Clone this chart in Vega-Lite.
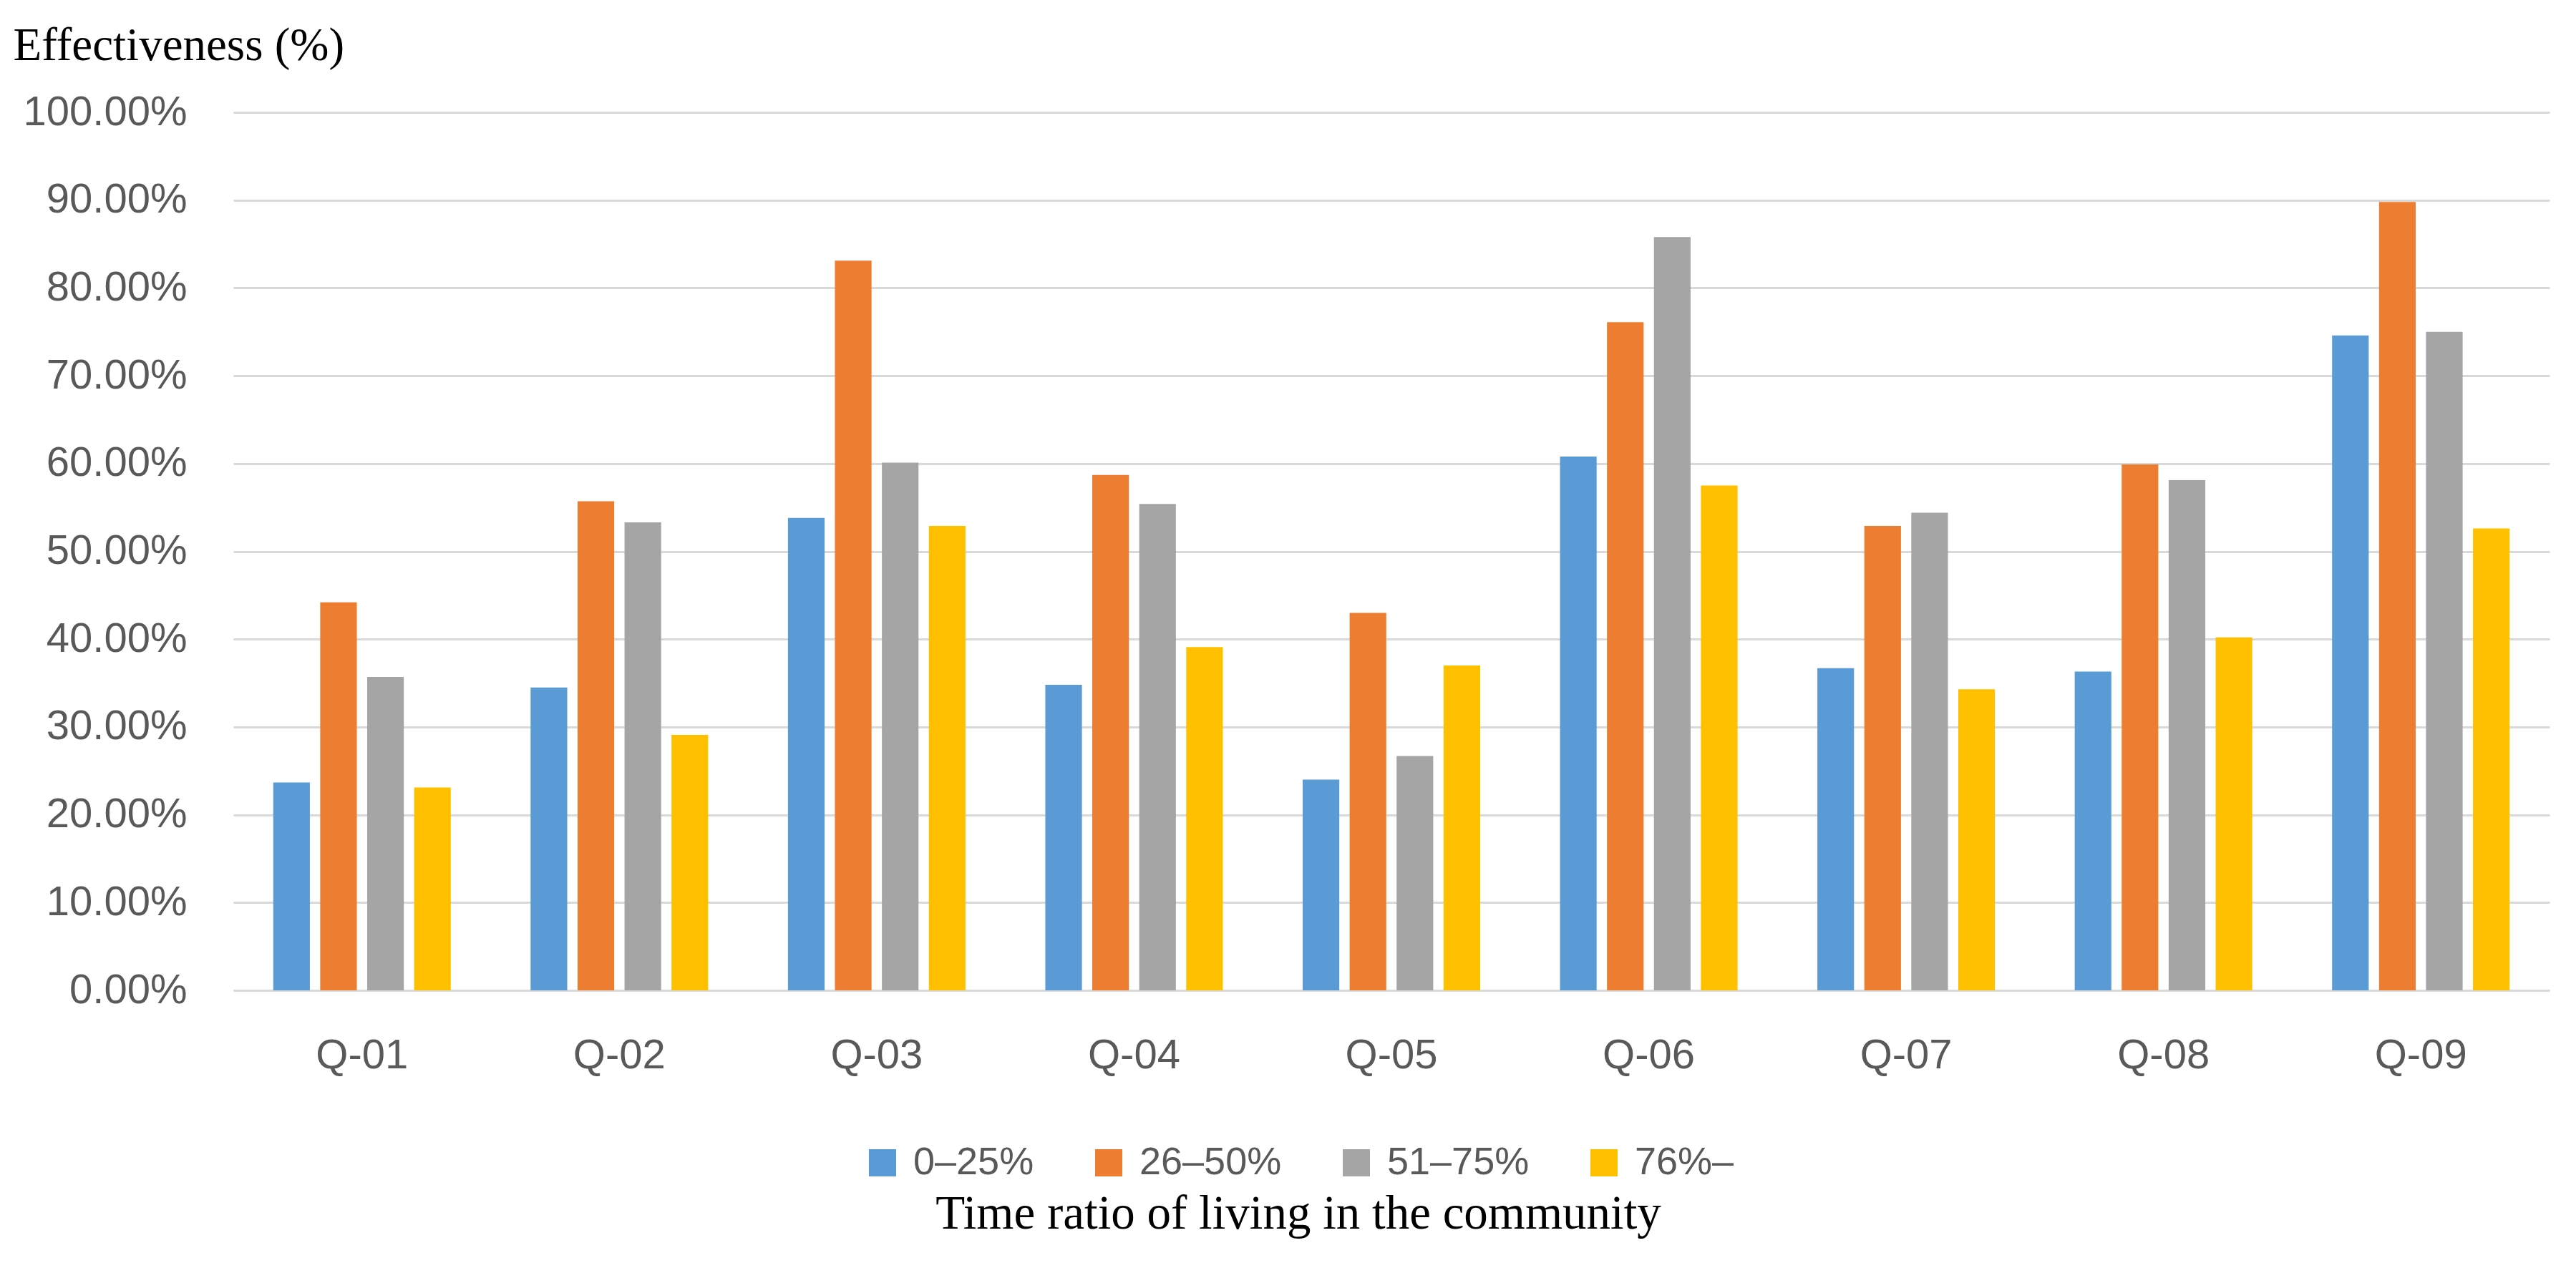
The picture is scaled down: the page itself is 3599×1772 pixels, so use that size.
{
  "$schema": "https://vega.github.io/schema/vega-lite/v6.json",
  "width": 3236,
  "height": 1227,
  "autosize": {"type": "none"},
  "padding": {"left": 326, "top": 157, "right": 37, "bottom": 388},
  "background": "white",
  "data": {
    "values": [
      {"question": "Q-01", "group": "0–25%", "value": 0.2367},
      {"question": "Q-01", "group": "26–50%", "value": 0.442},
      {"question": "Q-01", "group": "51–75%", "value": 0.357},
      {"question": "Q-01", "group": "76%–", "value": 0.231},
      {"question": "Q-02", "group": "0–25%", "value": 0.345},
      {"question": "Q-02", "group": "26–50%", "value": 0.557},
      {"question": "Q-02", "group": "51–75%", "value": 0.533},
      {"question": "Q-02", "group": "76%–", "value": 0.291},
      {"question": "Q-03", "group": "0–25%", "value": 0.538},
      {"question": "Q-03", "group": "26–50%", "value": 0.831},
      {"question": "Q-03", "group": "51–75%", "value": 0.601},
      {"question": "Q-03", "group": "76%–", "value": 0.529},
      {"question": "Q-04", "group": "0–25%", "value": 0.348},
      {"question": "Q-04", "group": "26–50%", "value": 0.587},
      {"question": "Q-04", "group": "51–75%", "value": 0.554},
      {"question": "Q-04", "group": "76%–", "value": 0.391},
      {"question": "Q-05", "group": "0–25%", "value": 0.240},
      {"question": "Q-05", "group": "26–50%", "value": 0.430},
      {"question": "Q-05", "group": "51–75%", "value": 0.267},
      {"question": "Q-05", "group": "76%–", "value": 0.370},
      {"question": "Q-06", "group": "0–25%", "value": 0.608},
      {"question": "Q-06", "group": "26–50%", "value": 0.761},
      {"question": "Q-06", "group": "51–75%", "value": 0.858},
      {"question": "Q-06", "group": "76%–", "value": 0.575},
      {"question": "Q-07", "group": "0–25%", "value": 0.367},
      {"question": "Q-07", "group": "26–50%", "value": 0.529},
      {"question": "Q-07", "group": "51–75%", "value": 0.544},
      {"question": "Q-07", "group": "76%–", "value": 0.343},
      {"question": "Q-08", "group": "0–25%", "value": 0.363},
      {"question": "Q-08", "group": "26–50%", "value": 0.599},
      {"question": "Q-08", "group": "51–75%", "value": 0.581},
      {"question": "Q-08", "group": "76%–", "value": 0.402},
      {"question": "Q-09", "group": "0–25%", "value": 0.746},
      {"question": "Q-09", "group": "26–50%", "value": 0.898},
      {"question": "Q-09", "group": "51–75%", "value": 0.750},
      {"question": "Q-09", "group": "76%–", "value": 0.526}
    ]
  },
  "mark": {"type": "bar"},
  "encoding": {
    "x": {
      "field": "question",
      "type": "nominal",
      "scale": {"paddingInner": 0.27, "paddingOuter": 0.135},
      "axis": {
        "title": null,
        "labelAngle": 0,
        "labelFont": "Liberation Sans",
        "labelFontSize": 58,
        "labelColor": "#595959",
        "labelPadding": 62,
        "labelLimit": 0,
        "ticks": false,
        "domain": true,
        "domainColor": "#d9d9d9",
        "domainWidth": 3,
        "grid": false
      }
    },
    "xOffset": {
      "field": "group",
      "type": "nominal",
      "sort": ["0–25%", "26–50%", "51–75%", "76%–"],
      "scale": {"paddingInner": 0.22, "paddingOuter": 0.11}
    },
    "y": {
      "field": "value",
      "type": "quantitative",
      "scale": {"domain": [0, 1]},
      "axis": {
        "title": "Effectiveness (%)",
        "titleAngle": 0,
        "titleAlign": "left",
        "titleBaseline": "alphabetic",
        "titleX": -308,
        "titleY": -74,
        "titleFont": "Liberation Serif",
        "titleFontSize": 65,
        "titleFontWeight": "normal",
        "titleColor": "#000000",
        "titleLimit": 0,
        "format": ".2%",
        "values": [0, 0.1, 0.2, 0.3, 0.4, 0.5, 0.6, 0.7, 0.8, 0.9, 1.0],
        "labelFont": "Liberation Sans",
        "labelFontSize": 58,
        "labelColor": "#595959",
        "labelPadding": 65,
        "labelLimit": 0,
        "ticks": false,
        "domain": false,
        "grid": true,
        "gridColor": "#d9d9d9",
        "gridWidth": 3
      }
    },
    "color": {
      "field": "group",
      "type": "nominal",
      "sort": ["0–25%", "26–50%", "51–75%", "76%–"],
      "scale": {
        "domain": ["0–25%", "26–50%", "51–75%", "76%–"],
        "range": ["#5B9BD5", "#ED7D31", "#A5A5A5", "#FFC000"]
      },
      "legend": {
        "title": "Time ratio of living in the community",
        "orient": "none",
        "legendX": 880,
        "legendY": 1441,
        "direction": "horizontal",
        "columns": 4,
        "titleOrient": "bottom",
        "titleAnchor": "middle",
        "titleFont": "Liberation Serif",
        "titleFontSize": 67,
        "titleFontWeight": "normal",
        "titleColor": "#000000",
        "titlePadding": 12,
        "titleLimit": 0,
        "labelFont": "Liberation Sans",
        "labelFontSize": 54,
        "labelColor": "#595959",
        "labelOffset": 16,
        "labelLimit": 0,
        "columnPadding": 77,
        "symbolType": "square",
        "symbolSize": 1444,
        "symbolStrokeWidth": 0,
        "symbolOpacity": 1,
        "padding": 0
      }
    }
  },
  "config": {"view": {"stroke": null}}
}
